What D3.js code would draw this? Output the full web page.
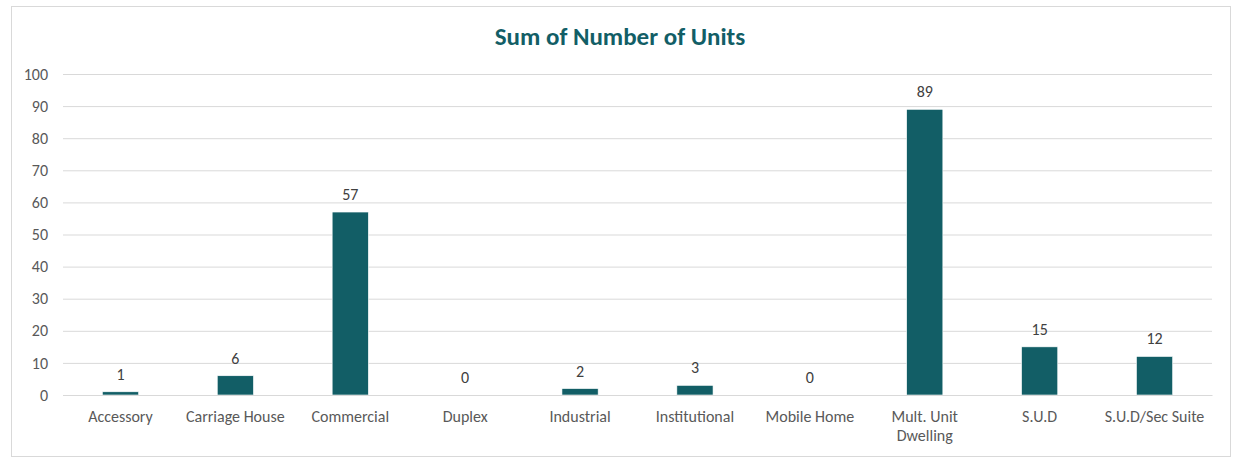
<!DOCTYPE html>
<html><head><meta charset="utf-8">
<script src="https://cdn.jsdelivr.net/npm/d3@7"></script>
<style>body{margin:0;background:#fff;}text{font-family:Carlito,Calibri,Lato,sans-serif;}</style>
</head><body><svg id="c" width="1235" height="458"></svg>
<script>
const categories = ["Accessory","Carriage House","Commercial","Duplex","Industrial","Institutional","Mobile Home","Mult. Unit Dwelling","S.U.D","S.U.D/Sec Suite"];
const values = [1,6,57,0,2,3,0,89,15,12];
const yTicks = [0,10,20,30,40,50,60,70,80,90,100];
const title = "Sum of Number of Units";

const svg = d3.select("#c");
const m = {left:63, right:1212, top:74, bottom:395};
svg.append("rect").attr("x",11.5).attr("y",6.5).attr("width",1219).attr("height",450)
  .attr("fill","#fff").attr("stroke","#d9d9d9");

const x = d3.scaleBand().domain(categories).range([m.left,m.right]).paddingInner(0.685).paddingOuter(0.3425);
const y = d3.scaleLinear().domain([0,100]).range([m.bottom,m.top]);

const yAxis = svg.append("g").attr("transform",`translate(${m.left},0)`)
  .call(d3.axisLeft(y).tickValues(yTicks).tickSize(-(m.right-m.left)).tickPadding(15));
yAxis.select(".domain").remove();
yAxis.selectAll(".tick line").attr("stroke","#d9d9d9");
yAxis.selectAll(".tick text").attr("fill","#595959").style("font-size","16px").attr("font-family","Carlito,Calibri,Lato,sans-serif");

svg.selectAll("rect.bar").data(values).join("rect").attr("class","bar")
  .attr("x",(d,i)=>x(categories[i])).attr("width",x.bandwidth())
  .attr("y",d=>y(d)).attr("height",d=>y(0)-y(d))
  .attr("fill","#125e66").attr("stroke","#fff").attr("stroke-width",0.6);

svg.selectAll("text.val").data(values).join("text").attr("class","val")
  .attr("x",(d,i)=>x(categories[i])+x.bandwidth()/2).attr("y",d=>y(d)-12)
  .attr("text-anchor","middle").attr("fill","#404040").style("font-size","16px").text(d=>d);

const xAxis = svg.append("g").attr("transform",`translate(0,${m.bottom})`)
  .call(d3.axisBottom(x).tickSize(0).tickFormat(""));
xAxis.select(".domain").attr("stroke","#d9d9d9");
categories.forEach(c=>{
  const cx = x(c)+x.bandwidth()/2;
  const t = svg.append("text").attr("x",cx).attr("y",422)
    .attr("text-anchor","middle").attr("fill","#595959").style("font-size","16px");
  const lines = c==="Mult. Unit Dwelling" ? ["Mult. Unit","Dwelling"] : [c];
  lines.forEach((l,i)=>t.append("tspan").attr("x",cx).attr("dy",i?19:0).text(l));
});

svg.append("text").attr("x",620).attr("y",45).attr("text-anchor","middle")
  .attr("fill","#125e66").style("font-size","25px").style("font-weight","bold").text(title);
</script></body></html>
